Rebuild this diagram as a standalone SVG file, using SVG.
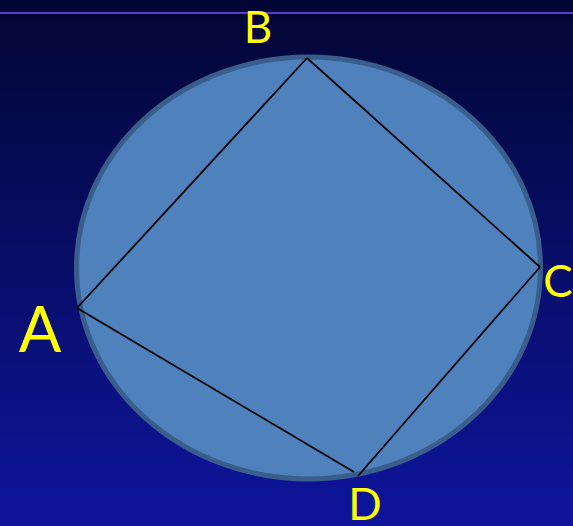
<svg xmlns="http://www.w3.org/2000/svg" width="573" height="526" viewBox="0 0 573 526">
<defs>
<linearGradient id="bg" x1="0" y1="0" x2="0" y2="1">
<stop offset="0" stop-color="#020634"/>
<stop offset="1" stop-color="#0e159c"/>
</linearGradient>
</defs>
<style>
.lbl{font-family:Lato,"Open Sans","Liberation Sans",sans-serif;fill:#ffff00;text-anchor:middle}
.edge{stroke:#000;stroke-width:1.8;fill:none}
</style>
<rect x="0" y="0" width="573" height="526" fill="url(#bg)"/>
<line x1="0" y1="13" x2="573" y2="13" stroke="#5a3ec8" stroke-width="2"/>
<g id="circle">
<ellipse cx="308.5" cy="268" rx="232" ry="211" fill="#4f81bd" stroke="#3a5e8c" stroke-width="5"/>
</g>
<g id="connectors">
<line class="edge" x1="77" y1="308" x2="307" y2="58"/>
<line class="edge" x1="307" y1="58" x2="540" y2="267"/>
<line class="edge" x1="540" y1="267" x2="358" y2="476"/>
<line class="edge" x1="77" y1="308" x2="354" y2="472"/>
</g>
<g id="A"><text class="lbl" x="40" y="352" font-size="63">A</text></g>
<g id="B"><text class="lbl" x="258" y="43" font-size="44">B</text></g>
<g id="C"><text class="lbl" x="558" y="297" font-size="44">C</text></g>
<g id="D"><text class="lbl" x="365" y="520" font-size="44">D</text></g>
</svg>
